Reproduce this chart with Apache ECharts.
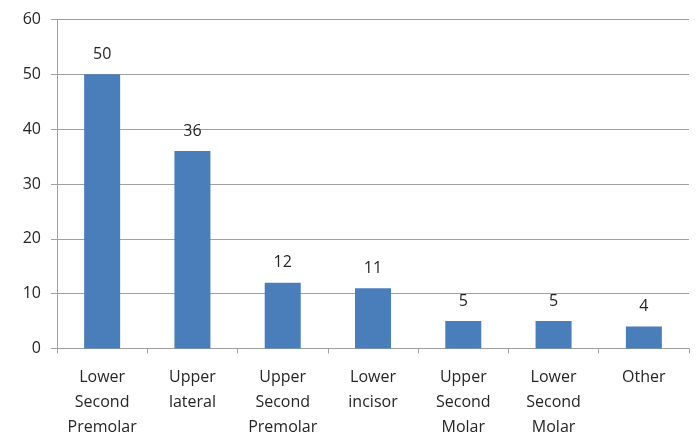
<!DOCTYPE html>
<html>
<head>
<meta charset="utf-8">
<style>
  html, body { margin: 0; padding: 0; background: #fff; }
  #chart { width: 699px; height: 433px; }
</style>
<script src="https://cdn.jsdelivr.net/npm/echarts@6/dist/echarts.min.js"></script>
</head>
<body>
<div id="chart"></div>
<script>
// Tooth types and their counts
const categories = [
  'Lower\nSecond\nPremolar',
  'Upper\nlateral',
  'Upper\nSecond\nPremolar',
  'Lower\nincisor',
  'Upper\nSecond\nMolar',
  'Lower\nSecond\nMolar',
  'Other'
];
const counts = [50, 36, 12, 11, 5, 5, 4];
const yTicks = { min: 0, max: 60, interval: 10 };

const font = '"Open Sans", "Liberation Sans", sans-serif';
const chart = echarts.init(document.getElementById('chart'), null, { renderer: 'canvas' });

chart.setOption({
  animation: false,
  grid: { left: 57, right: 10, top: 19.5, bottom: 84.5, containLabel: false, outerBoundsMode: 'none' },
  xAxis: {
    type: 'category',
    data: categories,
    axisLine: { show: true, lineStyle: { color: '#a0a0a0', width: 1 } },
    axisTick: { show: true, length: 5, alignWithLabel: false, lineStyle: { color: '#a0a0a0' } },
    axisLabel: {
      color: '#262626',
      fontFamily: font,
      fontSize: 16,
      lineHeight: 25,
      margin: 16,
      interval: 0
    }
  },
  yAxis: {
    type: 'value',
    min: yTicks.min,
    max: yTicks.max,
    interval: yTicks.interval,
    axisLine: { show: true, lineStyle: { color: '#a0a0a0', width: 1 } },
    axisTick: { show: true, length: 6, lineStyle: { color: '#a0a0a0' } },
    axisLabel: { color: '#262626', fontFamily: font, fontSize: 16, margin: 16 },
    splitLine: { show: true, lineStyle: { color: '#a0a0a0', width: 1 } }
  },
  series: [{
    type: 'bar',
    data: counts,
    barWidth: 36,
    itemStyle: { color: '#4a7ebb' },
    label: {
      show: true,
      position: 'top',
      distance: 12,
      color: '#262626',
      fontFamily: font,
      fontSize: 16
    }
  }]
});
</script>
</body>
</html>
